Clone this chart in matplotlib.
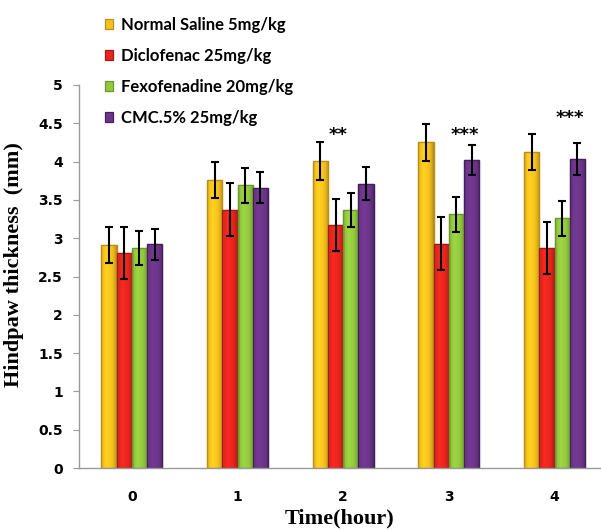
import numpy as np
import matplotlib
matplotlib.use("Agg")
import matplotlib.pyplot as plt
from matplotlib.colors import to_rgb

# ---- data ----
time_labels = ["0", "1", "2", "3", "4"]
series_names = ["Normal Saline 5mg/kg", "Diclofenac 25mg/kg",
                "Fexofenadine 20mg/kg", "CMC.5% 25mg/kg"]
normal_saline = [2.91, 3.76, 4.01, 4.25, 4.12]
diclofenac    = [2.81, 3.37, 3.17, 2.93, 2.87]
fexofenadine  = [2.87, 3.69, 3.37, 3.31, 3.26]
cmc           = [2.92, 3.66, 3.71, 4.02, 4.03]
err_normal    = [0.24, 0.24, 0.245, 0.245, 0.235]
err_diclo     = [0.34, 0.345, 0.34, 0.345, 0.335]
err_fexo      = [0.225, 0.225, 0.225, 0.225, 0.23]
err_cmc       = [0.20, 0.20, 0.215, 0.20, 0.21]
sig_labels    = ["**", "***", "***"]
sig_groups    = [2, 3, 4]
sig_heights   = [4.35, 4.35, 4.57]

values = [normal_saline, diclofenac, fexofenadine, cmc]
errors = [err_normal, err_diclo, err_fexo, err_cmc]
colors = ["#F4C21E", "#E8251F", "#93C83F", "#6C358A"]
edges = ["#B8901A", "#A51A16", "#6A9A2C", "#46205C"]

fig = plt.figure(figsize=(6.01, 5.30), dpi=100)
ax = fig.add_axes([79 / 601, 62 / 530, 1 - 79 / 601, (468 - 85) / 530])

# horizontal shading profile for a cylindrical look
prof_x = np.linspace(0, 1, 64)
profile = np.interp(prof_x, [0, 0.12, 0.35, 0.7, 0.9, 1.0],
                    [0.78, 0.98, 1.08, 1.0, 0.85, 0.7])

x = np.arange(len(time_labels))
w = 0.145
handles = []
for i, (vals, errs) in enumerate(zip(values, errors)):
    pos = x + (i - 1.5) * w
    b = ax.bar(pos, vals, width=w, color=colors[i], edgecolor=edges[i],
               linewidth=0.9, label=series_names[i], zorder=2)
    base = np.array(to_rgb(colors[i]))
    img = np.clip(base[None, None, :] * profile[None, :, None], 0, 1)
    for rect in b.patches:
        x0, y0 = rect.get_xy()
        im = ax.imshow(img, extent=[x0, x0 + rect.get_width(), y0, y0 + rect.get_height()],
                       aspect="auto", interpolation="bilinear", zorder=2.1)
        im.set_clip_path(rect)
        ax.add_patch(plt.Rectangle((x0, y0), rect.get_width(), rect.get_height(),
                                   fill=False, edgecolor=edges[i], linewidth=0.9,
                                   zorder=2.2))
    ax.errorbar(pos, vals, yerr=errs, fmt="none", ecolor="black",
                elinewidth=1.5, capsize=3, capthick=1.5, zorder=3)
    handles.append(b)

offsets = {"**": -0.052, "***": 0.15}
for lab, g, h in zip(sig_labels, sig_groups, sig_heights):
    ax.text(g + offsets[lab], h, lab, ha="center", va="center",
            fontsize=13, fontweight="bold", color="black",
            family="DejaVu Sans")

ax.set_xlim(-0.5, 4.44)
ax.set_ylim(0, 5)
ax.set_yticks(np.arange(0, 5.01, 0.5))
ax.set_yticklabels(["0", "0.5", "1", "1.5", "2", "2.5", "3", "3.5", "4", "4.5", "5"])
ax.set_xticks(x)
ax.set_xticklabels(time_labels)

for s in ["top", "right"]:
    ax.spines[s].set_visible(False)
for s in ["left", "bottom"]:
    ax.spines[s].set_color("#999999")
    ax.spines[s].set_linewidth(1.0)

ax.tick_params(axis="y", direction="out", length=4.5, width=0.8,
               color="#999999", pad=7)
ax.tick_params(axis="x", length=0, pad=16)
for t in ax.get_xticklabels() + ax.get_yticklabels():
    t.set_fontweight("bold")
    t.set_fontsize(10)
    t.set_family("DejaVu Sans")

ax.set_xlabel("Time(hour)", fontsize=16, fontweight="bold",
              family="Liberation Serif", labelpad=3)
ax.set_ylabel("Hindpaw thickness  (mm)", fontsize=16, fontweight="bold",
              family="Liberation Serif")
ax.yaxis.set_label_coords(-0.105, 0.53)

leg = fig.legend(handles=handles, labels=series_names, loc="upper left",
                 bbox_to_anchor=(98 / 601, 1 - 10 / 530), frameon=False,
                 handlelength=0.5, handleheight=0.5, handletextpad=0.5,
                 labelspacing=0.9, borderaxespad=0,
                 prop={"family": "Lato", "weight": "bold", "size": 12})

fig.savefig("out.png", dpi=100)
